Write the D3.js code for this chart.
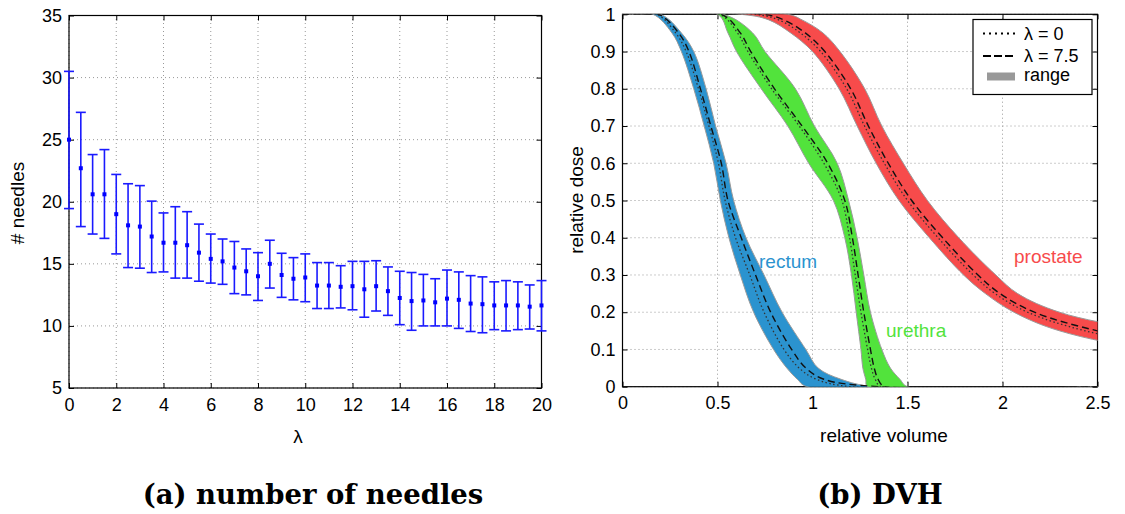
<!DOCTYPE html>
<html>
<head>
<meta charset="utf-8">
<script src="https://cdn.jsdelivr.net/npm/d3@7"></script>
<style>
  body { margin: 0; background: #fff; }
  svg { display: block; font-family: "Liberation Sans", Arial, sans-serif; }
  .grid line { stroke: #999; stroke-width: 1; stroke-dasharray: 1,3; }
  .axis text { font-size: 18px; fill: #000; }
  .axis line, .axis path { stroke: #000; }
  .label { font-size: 19px; fill: #000; }
  .legend text { font-size: 18px; fill: #000; }
  .caption { font-family: "DejaVu Serif", serif; font-weight: bold; font-size: 27.5px; fill: #000; }
</style>
</head>
<body>
<div id="chart"></div>
<script>

// ---- data: (a) number of needles ----
var lambdas = [0, 0.5, 1, 1.5, 2, 2.5, 3, 3.5, 4, 4.5, 5, 5.5, 6, 6.5, 7, 7.5, 8, 8.5, 9, 9.5,
               10, 10.5, 11, 11.5, 12, 12.5, 13, 13.5, 14, 14.5, 15, 15.5, 16, 16.5, 17, 17.5, 18, 18.5, 19, 19.5, 20];
var needleMean = [25.0, 22.7, 20.6, 20.6, 19.0, 18.1, 18.0, 17.2, 16.7, 16.7, 16.5, 15.9, 15.4, 15.2, 14.7, 14.4, 14.0, 15.0, 14.1, 13.8,
                  13.9, 13.25, 13.25, 13.15, 13.2, 12.95, 13.2, 12.8, 12.25, 12.0, 12.05, 11.9, 12.2, 12.1, 11.8, 11.75, 11.65, 11.65, 11.65, 11.55, 11.65];
var needleHigh = [30.5, 27.2, 23.8, 24.2, 22.2, 21.45, 21.3, 20.05, 19.1, 19.6, 19.2, 18.2, 17.4, 17.0, 16.8, 16.2, 15.9, 16.9, 15.85, 15.5,
                  15.8, 15.1, 15.1, 14.85, 15.2, 15.2, 15.25, 14.75, 14.4, 14.3, 14.15, 13.8, 14.5, 14.35, 14.05, 13.95, 13.55, 13.65, 13.55, 13.3, 13.65];
var needleLow = [19.45, 18.0, 17.4, 17.05, 15.8, 14.7, 14.65, 14.3, 14.35, 13.85, 13.85, 13.6, 13.45, 13.35, 12.6, 12.5, 12.05, 13.05, 12.3, 12.1,
                 11.95, 11.4, 11.4, 11.45, 11.3, 10.7, 11.2, 10.85, 10.1, 9.65, 10.0, 10.0, 10.0, 9.8, 9.55, 9.45, 9.7, 9.6, 9.7, 9.75, 9.6];
var lambdaTicks = [0, 2, 4, 6, 8, 10, 12, 14, 16, 18, 20];
var needleTicks = [5, 10, 15, 20, 25, 30, 35];

// ---- data: (b) DVH, volume read at each dose level ----
var rectumDose = [1, 1, 0.95, 0.9, 0.8, 0.7, 0.6, 0.5, 0.4, 0.3, 0.2, 0.1, 0.05, 0.02, 0, 0];
var rectumLo   = [0, 0.16, 0.26, 0.31, 0.375, 0.43, 0.48, 0.515, 0.56, 0.62, 0.69, 0.795, 0.865, 0.92, 0.97, 2.5];
var rectumHi   = [0, 0.20, 0.31, 0.375, 0.44, 0.49, 0.545, 0.585, 0.65, 0.745, 0.84, 0.965, 1.03, 1.15, 1.32, 2.5];
var rectumDot  = [0, 0.18, 0.28, 0.335, 0.40, 0.455, 0.505, 0.54, 0.595, 0.67, 0.745, 0.85, 0.93, 1.02, 1.2, 2.5];
var rectumDash = [0, 0.19, 0.295, 0.35, 0.41, 0.465, 0.52, 0.555, 0.625, 0.70, 0.78, 0.89, 0.965, 1.06, 1.35, 2.5];

var urethraDose = [1, 1, 0.95, 0.9, 0.8, 0.7, 0.6, 0.5, 0.4, 0.3, 0.2, 0.1, 0.05, 0.02, 0, 0];
var urethraLo   = [0, 0.50, 0.555, 0.60, 0.73, 0.87, 0.98, 1.11, 1.17, 1.205, 1.23, 1.255, 1.265, 1.28, 1.29, 2.5];
var urethraHi   = [0, 0.53, 0.685, 0.75, 0.91, 1.01, 1.13, 1.19, 1.235, 1.27, 1.305, 1.365, 1.41, 1.46, 1.5, 2.5];
var urethraDot  = [0, 0.51, 0.605, 0.66, 0.785, 0.93, 1.06, 1.155, 1.195, 1.225, 1.255, 1.29, 1.31, 1.33, 1.36, 2.5];
var urethraDash = [0, 0.52, 0.62, 0.675, 0.80, 0.945, 1.08, 1.17, 1.21, 1.24, 1.27, 1.305, 1.325, 1.345, 1.38, 2.5];

var prostateDose = [1, 1, 0.985, 0.95, 0.9, 0.8, 0.7, 0.6, 0.5, 0.4, 0.3, 0.25, 0.2, 0.15, 0.1];
var prostateLo   = [0, 0.62, 0.77, 0.885, 1.0, 1.14, 1.235, 1.335, 1.455, 1.615, 1.795, 1.91, 2.06, 2.3, 2.8];
var prostateHi   = [0, 0.87, 0.945, 1.055, 1.145, 1.275, 1.365, 1.478, 1.605, 1.77, 1.965, 2.08, 2.3, 2.75, 3.3];
var prostateDot  = [0, 0.70, 0.822, 0.936, 1.043, 1.18, 1.274, 1.378, 1.50, 1.661, 1.846, 1.961, 2.132, 2.435, 2.95];
var prostateDash = [0, 0.74, 0.849, 0.962, 1.065, 1.201, 1.294, 1.399, 1.522, 1.685, 1.871, 1.987, 2.168, 2.5, 3.025];

var organs = ["rectum", "urethra", "prostate"];
var organColors = ["#2b93cf", "#52e33c", "#f74b4b"];
var volumeTicks = [0, 0.5, 1, 1.5, 2, 2.5];
var doseTicks = [0, 0.1, 0.2, 0.3, 0.4, 0.5, 0.6, 0.7, 0.8, 0.9, 1];
var legendLabels = ["λ = 0", "λ = 7.5", "range"];

var svg = d3.select("#chart")
  .append("svg")
  .attr("width", 1125)
  .attr("height", 514);

// draws grid, mirrored ticks and the box around a plot
function frame(x, y, xTicks, yTicks, fmtX, fmtY) {
  var x0 = x.range()[0], x1 = x.range()[1], y0 = y.range()[0], y1 = y.range()[1];
  var g = svg.append("g");
  var grid = g.append("g").attr("class", "grid");
  grid.selectAll(".gx").data(xTicks).enter().append("line")
    .attr("x1", d => x(d)).attr("x2", d => x(d)).attr("y1", y0).attr("y2", y1);
  grid.selectAll(".gy").data(yTicks).enter().append("line")
    .attr("y1", d => y(d)).attr("y2", d => y(d)).attr("x1", x0).attr("x2", x1);

  g.append("g").attr("class", "axis")
    .attr("transform", "translate(0," + y0 + ")")
    .call(d3.axisBottom(x).tickValues(xTicks).tickFormat(fmtX).tickSizeInner(-5).tickSizeOuter(0).tickPadding(10));
  g.append("g").attr("class", "axis")
    .attr("transform", "translate(" + x0 + ",0)")
    .call(d3.axisLeft(y).tickValues(yTicks).tickFormat(fmtY).tickSizeInner(-5).tickSizeOuter(0).tickPadding(7));
  g.append("g").attr("class", "axis")
    .attr("transform", "translate(0," + y1 + ")")
    .call(d3.axisTop(x).tickValues(xTicks).tickFormat("").tickSizeInner(-5).tickSizeOuter(0));
  g.append("g").attr("class", "axis")
    .attr("transform", "translate(" + x1 + ",0)")
    .call(d3.axisRight(y).tickValues(yTicks).tickFormat("").tickSizeInner(-5).tickSizeOuter(0));
  g.selectAll(".axis .domain").remove();

  g.append("rect")
    .attr("x", x0).attr("y", y1)
    .attr("width", x1 - x0).attr("height", y0 - y1)
    .attr("fill", "none").attr("stroke", "#000").attr("stroke-width", 1.2);
  return g;
}

// ---------------- (a) number of needles ----------------
var xA = d3.scaleLinear().domain([0, 20]).range([69, 541.5]);
var yA = d3.scaleLinear().domain([5, 35]).range([388, 15.5]);

frame(xA, yA, lambdaTicks, needleTicks, d3.format("d"), d3.format("d"));

var bars = svg.append("g")
  .selectAll("g")
  .data(lambdas)
  .enter().append("g")
  .attr("stroke", "#1a1aff")
  .attr("stroke-width", 1.6);

bars.append("line")
  .attr("x1", d => xA(d)).attr("x2", d => xA(d))
  .attr("y1", (d, i) => yA(needleLow[i])).attr("y2", (d, i) => yA(needleHigh[i]));
bars.append("line")
  .attr("x1", d => xA(d) - 5).attr("x2", d => xA(d) + 5)
  .attr("y1", (d, i) => yA(needleHigh[i])).attr("y2", (d, i) => yA(needleHigh[i]));
bars.append("line")
  .attr("x1", d => xA(d) - 5).attr("x2", d => xA(d) + 5)
  .attr("y1", (d, i) => yA(needleLow[i])).attr("y2", (d, i) => yA(needleLow[i]));
bars.append("rect")
  .attr("x", d => xA(d) - 2).attr("y", (d, i) => yA(needleMean[i]) - 2)
  .attr("width", 4).attr("height", 4)
  .attr("stroke", "none").attr("fill", "#0000ff");

svg.append("text").attr("class", "label")
  .attr("x", 298).attr("y", 443)
  .attr("text-anchor", "middle")
  .text("λ");
svg.append("text").attr("class", "label")
  .attr("transform", "translate(24,203) rotate(-90)")
  .attr("text-anchor", "middle")
  .text("# needles");
svg.append("text").attr("class", "caption")
  .attr("x", 313).attr("y", 504)
  .attr("text-anchor", "middle")
  .text("(a) number of needles");

// ---------------- (b) DVH ----------------
var xB = d3.scaleLinear().domain([0, 2.5]).range([622.5, 1097.5]);
var yB = d3.scaleLinear().domain([0, 1]).range([386.7, 14.3]);

svg.append("clipPath").attr("id", "clipB")
  .append("rect")
  .attr("x", xB(0)).attr("y", yB(1))
  .attr("width", xB(2.5) - xB(0)).attr("height", yB(0) - yB(1));

var fmtDose = function(d) { return d3.format("~g")(d); };
frame(xB, yB, volumeTicks, doseTicks, fmtDose, fmtDose);

// smooth curve through the points
var line = d3.line()
  .x(d => xB(d[0]))
  .y(d => yB(d[1]))
  .curve(d3.curveCatmullRom.alpha(0.5));

function pts(vol, dose) {
  return vol.map(function(v, i) { return [v, dose[i]]; });
}

var curves = [
  { dose: rectumDose, lo: rectumLo, hi: rectumHi, dot: rectumDot, dash: rectumDash },
  { dose: urethraDose, lo: urethraLo, hi: urethraHi, dot: urethraDot, dash: urethraDash },
  { dose: prostateDose, lo: prostateLo, hi: prostateHi, dot: prostateDot, dash: prostateDash }
];

var plotB = svg.append("g").attr("clip-path", "url(#clipB)");

// range bands
plotB.selectAll(".band")
  .data(curves)
  .enter().append("path")
  .attr("class", "band")
  .attr("d", d => line(pts(d.lo, d.dose).concat(pts(d.hi, d.dose).reverse())) + "Z")
  .attr("fill", (d, i) => organColors[i])
  .attr("stroke", "#9a9a9a")
  .attr("stroke-width", 1);

// lambda = 0 (dotted)
plotB.selectAll(".dot")
  .data(curves)
  .enter().append("path")
  .attr("d", d => line(pts(d.dot, d.dose)))
  .attr("fill", "none")
  .attr("stroke", "#333")
  .attr("stroke-width", 1.3)
  .attr("stroke-dasharray", "1.5,2.5");

// lambda = 7.5 (dashed)
plotB.selectAll(".dash")
  .data(curves)
  .enter().append("path")
  .attr("d", d => line(pts(d.dash, d.dose)))
  .attr("fill", "none")
  .attr("stroke", "#111")
  .attr("stroke-width", 1.4)
  .attr("stroke-dasharray", "7,4");

// organ names
var namePos = [[759, 268], [886, 337], [1014, 263]];
svg.selectAll(".organ")
  .data(organs)
  .enter().append("text")
  .attr("class", "label")
  .attr("x", (d, i) => namePos[i][0])
  .attr("y", (d, i) => namePos[i][1])
  .style("fill", (d, i) => organColors[i])
  .text(d => d);

// legend
var legend = svg.append("g").attr("class", "legend");
legend.append("rect")
  .attr("x", 973).attr("y", 19.5)
  .attr("width", 119).attr("height", 75)
  .attr("fill", "#fff").attr("stroke", "#000").attr("stroke-width", 1.2);
legend.append("line")
  .attr("x1", 983).attr("x2", 1015).attr("y1", 33.5).attr("y2", 33.5)
  .attr("stroke", "#000").attr("stroke-width", 2).attr("stroke-dasharray", "2,4");
legend.append("line")
  .attr("x1", 983).attr("x2", 1015).attr("y1", 56).attr("y2", 56)
  .attr("stroke", "#000").attr("stroke-width", 2).attr("stroke-dasharray", "8,3");
legend.append("rect")
  .attr("x", 987).attr("y", 72.5).attr("width", 28).attr("height", 8)
  .attr("fill", "#999");
legend.selectAll(".lt")
  .data(legendLabels)
  .enter().append("text")
  .attr("x", 1024)
  .attr("y", (d, i) => [39.5, 62, 81][i])
  .text(d => d);

svg.append("text").attr("class", "label")
  .attr("x", 884).attr("y", 442)
  .attr("text-anchor", "middle")
  .text("relative volume");
svg.append("text").attr("class", "label")
  .attr("transform", "translate(583,200) rotate(-90)")
  .attr("text-anchor", "middle")
  .text("relative dose");
svg.append("text").attr("class", "caption")
  .attr("x", 880).attr("y", 504)
  .attr("text-anchor", "middle")
  .text("(b) DVH");

</script>
</body>
</html>
